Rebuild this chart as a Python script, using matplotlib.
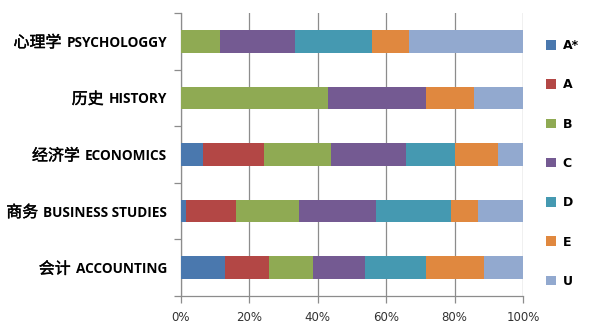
import matplotlib
matplotlib.use("Agg")
import matplotlib.pyplot as plt
import matplotlib.patheffects as pe
import numpy as np
from matplotlib.ticker import FixedLocator, PercentFormatter
from matplotlib.patches import Patch

plt.rcParams['font.family'] = ['Noto Sans CJK SC', 'DejaVu Sans']

categories_zh = ["会计", "商务", "经济学", "历史", "心理学"]
categories_en = ["ACCOUNTING", "BUSINESS STUDIES", "ECONOMICS", "HISTORY", "PSYCHOLOGGY"]
grades = ["A*", "A", "B", "C", "D", "E", "U"]
values = {
    "A*": [12.9, 1.5, 6.3, 0.0, 0.0],
    "A":  [12.9, 14.6, 18.0, 0.0, 0.0],
    "B":  [12.9, 18.4, 19.6, 43.0, 11.4],
    "C":  [15.1, 22.4, 21.9, 28.6, 21.9],
    "D":  [17.8, 22.0, 14.3, 0.0, 22.6],
    "E":  [17.0, 8.0, 12.7, 14.1, 10.9],
    "U":  [11.4, 13.1, 7.2, 14.3, 33.2],
}
colors = ["#4A78AE", "#B34745", "#8FAA53", "#745A92", "#4599B1", "#E0883F", "#92A9CF"]

fig = plt.figure(figsize=(6.03, 3.29), dpi=100)
ax = fig.add_axes([181/603, 1-296/329, (523-181)/603, (296-13)/329])

y = np.arange(len(categories_en))
left = np.zeros(len(categories_en))
for g, c in zip(grades, colors):
    v = np.array(values[g])
    ax.barh(y, v, left=left, height=0.4, color=c, zorder=3, linewidth=0)
    left += v

ax.set_xlim(0, 100)
ax.set_ylim(-0.5, len(categories_en) - 0.5)
ax.xaxis.set_major_locator(FixedLocator([0, 20, 40, 60, 80, 100]))
ax.xaxis.set_major_formatter(PercentFormatter(decimals=0))
ax.grid(axis='x', color='#8C8C8C', linewidth=0.9, zorder=0)

ax.set_yticks(y)
ax.set_yticklabels(categories_en, fontsize=9.8, fontweight='bold', family=['Open Sans', 'DejaVu Sans'])
ax.yaxis.set_minor_locator(FixedLocator(np.arange(-0.5, len(categories_en), 1.0)))
ax.tick_params(axis='y', which='major', length=0, pad=10)
ax.tick_params(axis='y', which='minor', length=5, color='#8C8C8C', width=0.9)
ax.tick_params(axis='x', length=5, color='#8C8C8C', width=0.9, labelsize=8.5, labelcolor='#333333', pad=6)
for lab in ax.get_xticklabels():
    lab.set_family(['DejaVu Sans'])

for s in ['top', 'right']:
    ax.spines[s].set_visible(False)
for s in ['left', 'bottom']:
    ax.spines[s].set_color('#8C8C8C')
    ax.spines[s].set_linewidth(0.9)

# Chinese parts of the category labels, placed left of the English tick labels
fig.canvas.draw()
renderer = fig.canvas.get_renderer()
inv = fig.transFigure.inverted()
for lab, zh in zip(ax.get_yticklabels(), categories_zh):
    bb = lab.get_window_extent(renderer)
    x0, _ = inv.transform((bb.x0 - 5, 0))
    _, yc = inv.transform((0, (bb.y0 + bb.y1) / 2))
    fig.text(x0, yc, zh, ha='right', va='center', fontsize=11.5, fontweight='normal', color='black',
             path_effects=[pe.withStroke(linewidth=0.3, foreground='black')])

handles = [Patch(facecolor=c, edgecolor='none') for c in colors]
leg = fig.legend(handles, grades, loc='upper left', bbox_to_anchor=(535/603, 1-28/329),
                 frameon=False, prop={'weight': 'bold', 'size': 9, 'family': ['DejaVu Sans']},
                 handlelength=0.8, handleheight=0.8, handletextpad=0.5, labelspacing=2.1)

fig.savefig("out.png", dpi=100)
